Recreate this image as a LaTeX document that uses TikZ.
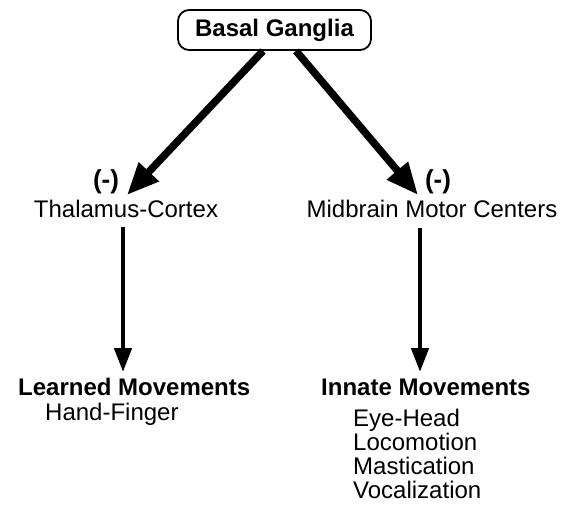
\documentclass[tikz,border=0pt]{standalone}
\usepackage{fontspec}
\setmainfont{Liberation Sans}
\usetikzlibrary{arrows.meta}
\begin{document}
\begin{tikzpicture}[x=1pt,y=-1pt,
  lbl/.style={inner sep=0pt, font=\fontsize{24}{28}\selectfont},
  blbl/.style={inner sep=0pt, font=\fontsize{24}{28}\selectfont\bfseries},
  neglbl/.style={inner sep=0pt, font=\fontsize{26}{30}\selectfont\bfseries},
  boxnode/.style={draw, line width=1.8pt, rounded corners=11pt, minimum width=193pt, minimum height=40pt, inner sep=0pt, font=\fontsize{24}{28}\selectfont\bfseries},
  darrow/.style={line width=7.5pt, -{Triangle[length=32pt,width=26pt]}},
  varrow/.style={line width=4.5pt, -{Triangle[length=24pt,width=17pt]}}]
\useasboundingbox (0,0) rectangle (562,505);
\node[boxnode] (bg) at (274.5,30) {Basal Ganglia};
\node[neglbl, anchor=base] (lneg) at (106,189) {(-)};
\node[neglbl, anchor=base] (rneg) at (438,189) {(-)};
\node[lbl, anchor=base] (thal) at (126,218) {Thalamus-Cortex};
\node[lbl, anchor=base] (mid) at (432,218) {Midbrain Motor Centers};
\node[blbl, anchor=base west] (learned) at (18,395) {Learned Movements};
\node[lbl, anchor=base west] (hand) at (45,420) {Hand-Finger};
\node[blbl, anchor=base west] (innate) at (321,395) {Innate Movements};
\node[lbl, anchor=base west] (eye) at (353,426) {Eye-Head};
\node[lbl, anchor=base west] (loco) at (353,450) {Locomotion};
\node[lbl, anchor=base west] (mast) at (353,474) {Mastication};
\node[lbl, anchor=base west] (voc) at (353,498) {Vocalization};
\coordinate (ltip) at (127,195);
\coordinate (rtip) at (418,195);
\coordinate (lvtip) at (123,372);
\coordinate (rvtip) at (420,372);
\draw[darrow] ([xshift=-11.5pt]bg.south) -- (ltip);
\draw[darrow] ([xshift=21.5pt]bg.south) -- (rtip);
\draw[varrow] ([shift={(-3pt,-9pt)}]thal.south) -- (lvtip);
\draw[varrow] ([shift={(-12pt,-10pt)}]mid.south) -- (rvtip);
\end{tikzpicture}
\end{document}
